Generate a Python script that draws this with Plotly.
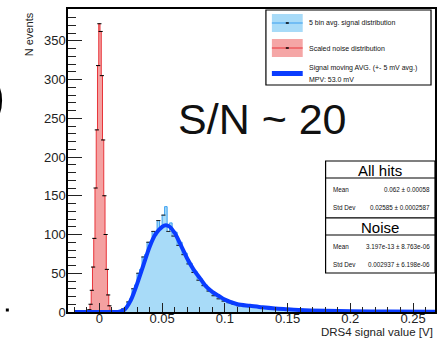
import numpy as np
import plotly.graph_objects as go

# ---------------- data ----------------
noise_centers = [-0.009, -0.008, -0.007, -0.006, -0.005, -0.004, -0.003, -0.002, -0.001,
                 0.000, 0.001, 0.002, 0.003, 0.004, 0.005, 0.006, 0.007, 0.008, 0.009]
noise_counts = [1, 3, 10, 28, 58, 95, 160, 235, 318,
                372, 362, 305, 222, 150, 100, 55, 22, 8, 2]

sig_start, sig_width = 0.015, 0.002
sig_counts = [0, 1, 4, 5, 13, 17, 30, 35, 50, 55,
              71, 74, 90, 88, 104, 99, 118, 107, 125, 136,
              104, 115, 98, 103, 86, 90, 74, 76, 62, 63,
              51, 52, 41, 43, 34, 35, 27, 28, 21, 23,
              17, 19, 14, 16, 12, 14, 10, 12, 8, 10,
              9, 7, 9, 8, 6, 8, 7, 5, 7, 5,
              6, 4, 5, 5, 3, 5, 4, 3, 4, 3,
              3, 2, 3, 2, 3, 2, 2, 2, 1, 2,
              2, 1, 2, 1, 2, 1, 3, 1, 1, 1,
              1, 0.5, 1, 0.5, 1, 0.5, 0, 1, 0.5, 1,
              0.5, 0, 1, 0.5, 0.5, 1, 0, 0.5, 1, 0.5,
              0, 0.5, 1, 0.5, 0, 0.5, 0.5, 1, 0, 0.5,
              0.5, 0, 0.5, 0.5, 0, 0.5, 0]
sig_centers = [round(sig_start + i * sig_width, 4) for i in range(len(sig_counts))]

avg_x = [-0.02, 0.0, 0.012, 0.016, 0.020, 0.025, 0.030, 0.035, 0.040, 0.045, 0.050,
         0.053, 0.056, 0.060, 0.065, 0.070, 0.075, 0.080, 0.085, 0.090, 0.095, 0.100,
         0.110, 0.120, 0.130, 0.140, 0.150, 0.160, 0.180, 0.200, 0.230, 0.2675]
avg_y = [0, 0, 0, 0.5, 3, 15, 36, 60, 84, 101, 110,
         112, 110, 102, 86, 69, 55, 44, 33, 26, 21, 16,
         10, 8, 6, 4.5, 3.5, 2.5, 1.5, 1, 0.5, 0.3]

x_ticks = [0, 0.05, 0.1, 0.15, 0.2, 0.25]
x_ticktext = ["0", "0.05", "0.1", "0.15", "0.2", "0.25"]
y_ticks = [0, 50, 100, 150, 200, 250, 300, 350]

legend_labels = ["5 bin avg. signal distribution", "Scaled noise distribution",
                 "Signal moving AVG. (+- 5 mV avg.)", "MPV: 53.0 mV"]
stats_all = [("Mean", "0.062 \u00b1 0.00058"), ("Std Dev", "0.02585 \u00b1 0.0002587")]
stats_noise = [("Mean", "3.197e-13 \u00b1 8.763e-06"), ("Std Dev", "0.002937 \u00b1 6.198e-06")]

# ---------------- styling ----------------
W, H = 442, 339
L, R, T, B = 68, 437, 9, 312
FONT = "Liberation Sans, Arial, sans-serif"
SIG_FILL, SIG_LINE = "#a8dbf8", "#3a9ff0"
NOI_FILL, NOI_LINE = "rgba(240,130,130,0.75)", "#e8353a"
AVG_COL = "#0a3cff"


def px(x):
    return (x - L) / (R - L)


def py(y):
    return (B - y) / (B - T)


fig = go.Figure()
fig.add_trace(go.Scatter(x=noise_centers, y=noise_counts, mode="lines", line_shape="hvh",
                         fill="tozeroy", fillcolor=NOI_FILL,
                         line=dict(color=NOI_LINE, width=1), showlegend=False))
fig.add_trace(go.Scatter(x=sig_centers, y=sig_counts, mode="lines", line_shape="hvh",
                         fill="tozeroy", fillcolor=SIG_FILL,
                         line=dict(color=SIG_LINE, width=1), showlegend=False))
fig.add_trace(go.Scatter(x=noise_centers, y=noise_counts, mode="markers",
                         marker=dict(symbol="line-ew", size=3, color="black",
                                     line=dict(color="black", width=1)),
                         showlegend=False))
fig.add_trace(go.Scatter(x=sig_centers[:60:2], y=sig_counts[:60:2], mode="markers",
                         marker=dict(symbol="line-ew", size=3, color="black",
                                     line=dict(color="#222", width=1)),
                         showlegend=False))
fig.add_trace(go.Scatter(x=avg_x, y=avg_y, mode="lines", line_shape="spline",
                         line=dict(color=AVG_COL, width=4, smoothing=0.8), showlegend=False))

shapes = []
annos = []

# legend box
shapes.append(dict(type="rect", xref="paper", yref="paper", x0=px(267), x1=px(433),
                   y0=py(85), y1=py(10), line=dict(color="black", width=1.2),
                   fillcolor="white", layer="above"))
shapes.append(dict(type="rect", xref="paper", yref="paper", x0=px(273), x1=px(304),
                   y0=py(32), y1=py(14), line=dict(width=0), fillcolor=SIG_FILL, layer="above"))
shapes.append(dict(type="line", xref="paper", yref="paper", x0=px(273), x1=px(304),
                   y0=py(23), y1=py(23), line=dict(color=SIG_LINE, width=1), layer="above"))
shapes.append(dict(type="line", xref="paper", yref="paper", x0=px(287), x1=px(290),
                   y0=py(23), y1=py(23), line=dict(color="black", width=1.5), layer="above"))
shapes.append(dict(type="rect", xref="paper", yref="paper", x0=px(273), x1=px(304),
                   y0=py(57), y1=py(39), line=dict(width=0), fillcolor="#f5a6a6", layer="above"))
shapes.append(dict(type="line", xref="paper", yref="paper", x0=px(273), x1=px(304),
                   y0=py(48), y1=py(48), line=dict(color=NOI_LINE, width=1), layer="above"))
shapes.append(dict(type="line", xref="paper", yref="paper", x0=px(287), x1=px(290),
                   y0=py(48), y1=py(48), line=dict(color="black", width=1.5), layer="above"))
shapes.append(dict(type="rect", xref="paper", yref="paper", x0=px(273), x1=px(304),
                   y0=py(76), y1=py(71), line=dict(width=0), fillcolor=AVG_COL, layer="above"))
for txt, yy in zip(legend_labels, [23, 48, 68, 79]):
    annos.append(dict(x=px(308), y=py(yy), xref="paper", yref="paper", text=txt,
                      showarrow=False, xanchor="left", yanchor="middle",
                      font=dict(family=FONT, size=7, color="#111")))

# stats boxes
for (y0, ymid, y1, title, rows) in [(161, 178, 218, "All hits", stats_all),
                                     (218, 235, 273, "Noise", stats_noise)]:
    shapes.append(dict(type="rect", xref="paper", yref="paper", x0=px(327), x1=px(437),
                       y0=py(y1), y1=py(y0), line=dict(color="black", width=1.2),
                       fillcolor="white", layer="above"))
    shapes.append(dict(type="line", xref="paper", yref="paper", x0=px(327), x1=px(437),
                       y0=py(ymid), y1=py(ymid), line=dict(color="black", width=1.2),
                       layer="above"))
    annos.append(dict(x=px(382), y=py((y0 + ymid) / 2 + 0.5), xref="paper", yref="paper",
                      text=title, showarrow=False, xanchor="center", yanchor="middle",
                      font=dict(family=FONT, size=15, color="black")))
    for k, (lab, val) in enumerate(rows):
        yy = ymid + 11 + k * 18
        annos.append(dict(x=px(332), y=py(yy), xref="paper", yref="paper", text=lab,
                          showarrow=False, xanchor="left", yanchor="middle",
                          font=dict(family=FONT, size=6.3, color="#111")))
        annos.append(dict(x=px(434), y=py(yy), xref="paper", yref="paper", text=val,
                          showarrow=False, xanchor="right", yanchor="middle",
                          font=dict(family=FONT, size=6.3, color="#111")))

# S/N label
annos.append(dict(x=px(264), y=py(119), xref="paper", yref="paper", text="S/N ~ 20",
                  showarrow=False, xanchor="center", yanchor="middle",
                  font=dict(family=FONT, size=43, color="#111")))
# axis titles
annos.append(dict(x=px(29), y=py(10), xref="paper", yref="paper", text="N events",
                  showarrow=False, textangle=-90, xanchor="center", yanchor="top",
                  font=dict(family=FONT, size=11, color="#222")))
annos.append(dict(x=px(437), y=py(332), xref="paper", yref="paper",
                  text="DRS4 signal value [V]", showarrow=False, xanchor="right",
                  yanchor="middle", font=dict(family=FONT, size=11.5, color="#222")))
# neighbouring-slide fragments on the left edge
annos.append(dict(x=px(7), y=py(96), xref="paper", yref="paper", text=")",
                  showarrow=False, xanchor="right", yanchor="middle",
                  font=dict(family=FONT, size=52, color="black")))
shapes.append(dict(type="rect", xref="paper", yref="paper", x0=px(5.5), x1=px(8.5),
                   y0=py(311.5), y1=py(308.5), line=dict(width=0), fillcolor="black"))

fig.update_layout(
    width=W, height=H, margin=dict(l=L, r=W - R, t=T, b=H - B),
    paper_bgcolor="white", plot_bgcolor="white",
    shapes=shapes, annotations=annos, showlegend=False,
    font=dict(family=FONT, size=13, color="#222"),
    xaxis=dict(range=[-0.025, 0.2675], tickvals=x_ticks, ticktext=x_ticktext,
               ticks="inside", ticklen=9, tickwidth=1.2, tickcolor="#222",
               ticklabelstandoff=-6,
               minor=dict(dtick=0.01, tick0=0, ticks="inside", ticklen=5, tickcolor="#222",
                          tickwidth=1.2),
               showline=True, linecolor="black", linewidth=1.5, mirror=True,
               showgrid=False, zeroline=False, tickfont=dict(size=13, color="#222")),
    yaxis=dict(range=[0, 391], tickvals=y_ticks, ticks="inside", ticklen=14,
               tickwidth=1.2, tickcolor="#222", ticklabelstandoff=-2,
               minor=dict(dtick=10, tick0=0, ticks="inside", ticklen=8, tickcolor="#222",
                          tickwidth=1.2),
               showline=True, linecolor="black", linewidth=1.5, mirror=True,
               showgrid=False, zeroline=False, tickfont=dict(size=13, color="#222")),
)

fig.write_html("out.html")
